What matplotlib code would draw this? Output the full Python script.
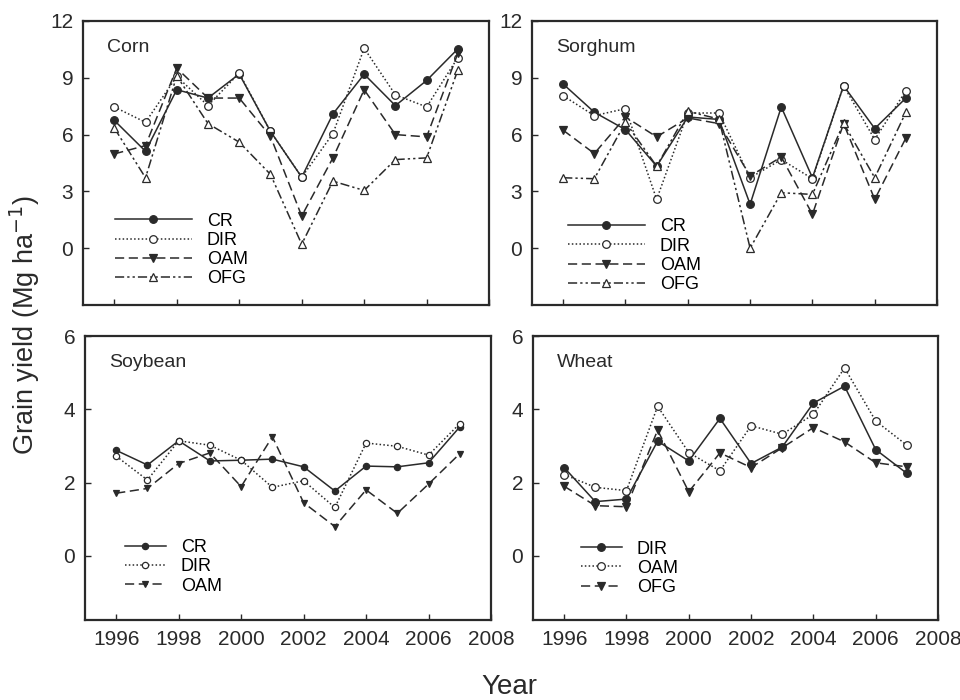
import numpy as np
import matplotlib
matplotlib.use('Agg')
import matplotlib.pyplot as plt

plt.rcParams['font.family'] = ['Liberation Sans', 'DejaVu Sans']

years = list(range(1996, 2008))

# Corn (Mg/ha)
corn_cr = [6.75, 5.12, 8.37, 7.93, 9.2, 6.17, 3.75, 7.09, 9.19, 7.53, 8.86, 10.53]
corn_dir = [7.46, 6.65, 9.07, 7.53, 9.25, 6.17, 3.75, 6.05, 10.56, 8.1, 7.46, 10.07]
corn_oam = [4.98, 5.42, 9.51, 7.93, 7.93, 5.91, 1.7, 4.77, 8.37, 6.0, 5.88, 10.3]
corn_ofg = [6.35, 3.72, 9.1, 6.58, 5.6, 3.9, 0.21, 3.54, 3.05, 4.68, 4.77, 9.42]

# Sorghum
sorg_cr = [8.67, 7.18, 6.26, 4.33, 6.93, 6.8, 2.32, 7.46, 3.72, 8.58, 6.32, 7.93]
sorg_dir = [8.05, 7.0, 7.37, 2.58, 7.14, 7.14, 3.72, 4.68, 3.67, 8.58, 5.74, 8.32]
sorg_oam = [6.23, 5.0, 6.93, 5.88, 6.88, 6.58, 3.81, 4.82, 1.79, 6.58, 2.58, 5.82]
sorg_ofg = [3.72, 3.67, 6.65, 4.33, 7.23, 6.82, 0.0, 2.93, 2.84, 6.6, 3.72, 7.18]

# Soybean
soy_cr = [2.88, 2.48, 3.14, 2.59, 2.61, 2.64, 2.43, 1.77, 2.45, 2.43, 2.54, 3.52]
soy_dir = [2.72, 2.07, 3.14, 3.02, 2.61, 1.87, 2.05, 1.32, 3.08, 2.99, 2.75, 3.61]
soy_oam = [1.71, 1.84, 2.52, 2.81, 1.89, 3.25, 1.45, 0.8, 1.8, 1.16, 1.96, 2.79]

# Wheat
wheat_dir = [2.41, 1.48, 1.55, 3.13, 2.59, 3.75, 2.52, 2.97, 4.17, 4.63, 2.9, 2.25]
wheat_oam = [2.22, 1.87, 1.78, 4.08, 2.82, 2.32, 3.55, 3.32, 3.86, 5.13, 3.68, 3.02]
wheat_ofg = [1.9, 1.37, 1.34, 3.43, 1.75, 2.81, 2.41, 2.95, 3.5, 3.11, 2.54, 2.43]

ink = '#2a2a2a'
styles = {
    'CR': dict(linestyle='-', marker='o', mfc=ink),
    'DIR': dict(linestyle=(0, (1, 1.5)), marker='o', mfc='white'),
    'OAM': dict(linestyle=(0, (6, 3)), marker='v', mfc=ink),
    'OFG': dict(linestyle=(0, (6, 2, 1.5, 2, 1.5, 2)), marker='^', mfc='white'),
}


def draw(ax, series, labels, style_keys, ms, title, ylim, yticks, show_x, leg_anchor, handlelength):
    for vals, lab, key in zip(series, labels, style_keys):
        st = styles[key]
        ax.plot(years, vals, color=ink, lw=1.1, linestyle=st['linestyle'],
                marker=st['marker'], ms=ms, mfc=st['mfc'], mec=ink, mew=0.9, label=lab)
    ax.set_xlim(1995, 2008)
    ax.set_ylim(*ylim)
    ax.set_yticks(yticks)
    ax.set_xticks(range(1996, 2009, 2))
    ax.tick_params(direction='in', length=4, width=1, labelsize=15, colors=ink, pad=7)
    if not show_x:
        ax.set_xticklabels([])
    for s in ax.spines.values():
        s.set_linewidth(1.6)
        s.set_color(ink)
    ax.text(0.06, 0.905, title, transform=ax.transAxes, fontsize=14, color=ink, va='center')
    ax.legend(loc='upper left', bbox_to_anchor=leg_anchor, frameon=False, fontsize=13,
              handlelength=handlelength, labelspacing=0.12, handletextpad=0.8, borderaxespad=0)


fig = plt.figure(figsize=(9.6, 7), dpi=100)
ax_corn = fig.add_axes([0.0865, 0.5643, 0.423, 0.4057])
ax_sorg = fig.add_axes([0.5542, 0.5643, 0.4219, 0.4057])
ax_soy = fig.add_axes([0.0885, 0.1143, 0.423, 0.4057])
ax_wheat = fig.add_axes([0.5552, 0.1143, 0.4219, 0.4057])

draw(ax_corn, [corn_cr, corn_dir, corn_oam, corn_ofg], ['CR', 'DIR', 'OAM', 'OFG'],
     ['CR', 'DIR', 'OAM', 'OFG'], 5.5, 'Corn', (-3, 12), [0, 3, 6, 9, 12], False, (0.06, 0.35), 4.3)
draw(ax_sorg, [sorg_cr, sorg_dir, sorg_oam, sorg_ofg], ['CR', 'DIR', 'OAM', 'OFG'],
     ['CR', 'DIR', 'OAM', 'OFG'], 5.5, 'Sorghum', (-3, 12), [0, 3, 6, 9, 12], False, (0.07, 0.33), 4.3)
draw(ax_soy, [soy_cr, soy_dir, soy_oam], ['CR', 'DIR', 'OAM'],
     ['CR', 'DIR', 'OAM'], 4.5, 'Soybean', (-1.75, 6), [0, 2, 4, 6], True, (0.08, 0.31), 2.3)
draw(ax_wheat, [wheat_dir, wheat_oam, wheat_ofg], ['DIR', 'OAM', 'OFG'],
     ['CR', 'DIR', 'OAM'], 5.5, 'Wheat', (-1.75, 6), [0, 2, 4, 6], True, (0.1, 0.305), 2.3)

fig.text(0.026, 0.535, 'Grain yield (Mg ha$^{-1}$)', rotation=90, fontsize=19.5,
         color=ink, ha='center', va='center')
fig.text(0.531, 0.018, 'Year', fontsize=20, color=ink, ha='center', va='center')

fig.savefig('out.png', dpi=100)
